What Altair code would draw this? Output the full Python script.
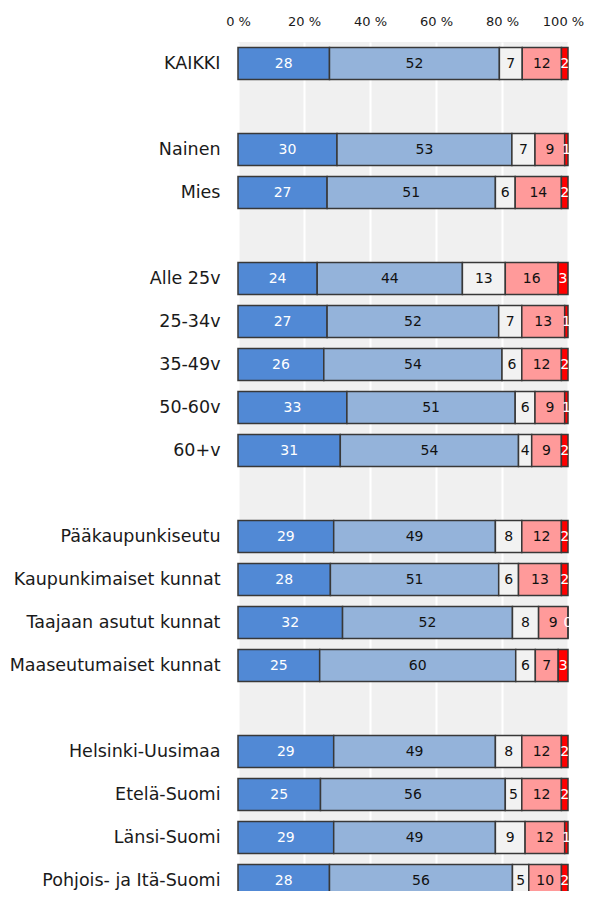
import altair as alt
import pandas as pd

# Row labels (in display order) and blank separator rows
rows = ["KAIKKI", "Nainen", "Mies", "Alle 25v", "25-34v", "35-49v", "50-60v", "60+v",
        "Pääkaupunkiseutu", "Kaupunkimaiset kunnat", "Taajaan asutut kunnat",
        "Maaseutumaiset kunnat", "Helsinki-Uusimaa", "Etelä-Suomi", "Länsi-Suomi",
        "Pohjois- ja Itä-Suomi"]
y_order = ["KAIKKI", " ",
           "Nainen", "Mies", "  ",
           "Alle 25v", "25-34v", "35-49v", "50-60v", "60+v", "   ",
           "Pääkaupunkiseutu", "Kaupunkimaiset kunnat", "Taajaan asutut kunnat",
           "Maaseutumaiset kunnat", "    ",
           "Helsinki-Uusimaa", "Etelä-Suomi", "Länsi-Suomi", "Pohjois- ja Itä-Suomi"]

segments = ["1", "2", "3", "4", "5"]
seg1 = [28, 30, 27, 24, 27, 26, 33, 31, 29, 28, 32, 25, 29, 25, 29, 28]
seg2 = [52, 53, 51, 44, 52, 54, 51, 54, 49, 51, 52, 60, 49, 56, 49, 56]
seg3 = [7, 7, 6, 13, 7, 6, 6, 4, 8, 6, 8, 6, 8, 5, 9, 5]
seg4 = [12, 9, 14, 16, 13, 12, 9, 9, 12, 13, 9, 7, 12, 12, 12, 10]
seg5 = [2, 1, 2, 3, 1, 2, 1, 2, 2, 2, 0, 3, 2, 2, 1, 2]

seg_colors = ["#5189d5", "#94b3da", "#f2f2f2", "#ff9a9a", "#ff0000"]
text_colors = ["#ffffff", "#111111", "#111111", "#111111", "#ffffff"]

records = []
for s_i, vals in enumerate([seg1, seg2, seg3, seg4, seg5]):
    for r, v in zip(rows, vals):
        records.append({"row": r, "seg": segments[s_i], "order": s_i, "value": v,
                        "tcolor": text_colors[s_i]})
df = pd.DataFrame(records)

FONT = "DejaVu Sans"

base = alt.Chart(df).transform_joinaggregate(
    total="sum(value)", groupby=["row"]
).transform_window(
    cum="sum(value)", groupby=["row"], sort=[alt.SortField("order")],
    frame=[None, 0]
).transform_calculate(
    x0="(datum.cum - datum.value) / datum.total",
    x1="datum.cum / datum.total",
    mid="(datum.cum - datum.value / 2) / datum.total",
)

yscale = alt.Scale(domain=y_order, range=[0, 860], paddingInner=0.26, paddingOuter=0.13)

bars = base.mark_bar(stroke="#383838", strokeWidth=1.5).encode(
    x=alt.X("x0:Q", scale=alt.Scale(domain=[0, 1], nice=False, zero=True),
            axis=alt.Axis(orient="top", values=[0, 0.2, 0.4, 0.6, 0.8, 1.0],
                          labelExpr="round(datum.value * 100) + ' %'",
                          title=None, domain=False, ticks=False, labelFlush=False,
                          labelOffset={"condition": {"test": "datum.value >= 1", "value": -5},
                                       "value": 0},
                          labelPadding=14, labelFont=FONT, labelFontSize=13,
                          labelColor="#1a1a1a", grid=True, gridColor="#ffffff",
                          gridWidth=2)),
    x2="x1:Q",
    y=alt.Y("row:N", scale=yscale,
            axis=alt.Axis(title=None, domain=False, ticks=False, labelPadding=18,
                          labelFont=FONT, labelFontSize=17.5, labelColor="#1a1a1a",
                          labelLimit=300, grid=False)),
    color=alt.Color("seg:N", scale=alt.Scale(domain=segments, range=seg_colors),
                    legend=None),
)

labels = base.mark_text(font=FONT, fontSize=14, baseline="middle", align="center").encode(
    x=alt.X("mid:Q"),
    y=alt.Y("row:N", scale=yscale),
    text=alt.Text("value:Q"),
    color=alt.Color("tcolor:N", scale=None),
)

chart = alt.layer(bars, labels).properties(
    width=330, height=849,
    autosize=alt.AutoSizeParams(type="none"),
    padding={"left": 230, "top": 34, "right": 18, "bottom": 0},
).configure_view(fill="#f0f0f0", stroke=None)

chart.save("out.html", embed_options={"renderer": "svg", "actions": False})
